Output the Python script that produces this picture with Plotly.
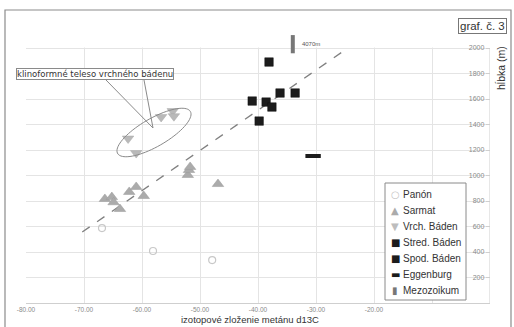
import numpy as np
import plotly.graph_objects as go

# ---------------- data ----------------
panon_x = [-66.9, -58.1, -47.9]
panon_y = [588, 408, 337]

sarmat_x = [-66.4, -65.2, -64.9, -63.8, -62.2, -61.0, -59.7, -52.1, -51.9, -51.7, -46.9]
sarmat_y = [816, 831, 790, 737, 871, 910, 839, 1004, 1043, 1067, 933]

vrch_x = [-62.4, -61.0, -56.7, -54.7, -54.5]
vrch_y = [1290, 1176, 1459, 1505, 1465]

stred_x = [-38.1, -41.0, -36.2, -33.6]
stred_y = [1890, 1584, 1647, 1647]

spod_x = [-38.6, -37.6, -39.8]
spod_y = [1576, 1537, 1427]

egg_x = [-30.5]
egg_y = [1153]

mezo_x = [-34.0]
mezo_y = [2030]
mezo_label = ["4070m"]

trend_x = [-70.3, -24.5]
trend_y = [557, 2000]

x_ticks = [-80, -70, -60, -50, -40, -30, -20, -10, 0]
x_ticktext = ["-80.00", "-70.00", "-60.00", "-50.00", "-40.00", "-30.00", "-20.00", "", "0.00"]
y_ticks = [0, 200, 400, 600, 800, 1000, 1200, 1400, 1600, 1800, 2000]
Y_MAX_TICK = 2000

legend_names = ["Panón", "Sarmat", "Vrch. Báden", "Stred. Báden", "Spod. Báden", "Eggenburg", "Mezozoikum"]
legend_glyphs = ["○", "▲", "▼", "■", "■", "▬", "▮"]
legend_colors = ["#c4c4c4", "#ababab", "#bdbdbd", "#1c1c1c", "#1c1c1c", "#1c1c1c", "#777777"]

# ---------------- geometry ----------------
W, H = 514, 327
L, R, T, B = 26, 24, 33, 24
PW, PH = W - L - R, H - T - B
XR = [-80, 0]
YR = [0, Y_MAX_TICK * PH / 255]   # 2000 sits 255 px above the x axis, headroom for the 4070m marker


def px2x(px):
    return XR[0] + (px - L) / PW * (XR[1] - XR[0])


def py2y(py):
    return YR[0] + (H - B - py) / PH * (YR[1] - YR[0])


def px2paper(px):
    return (px - L) / PW


def py2paper(py):
    return (H - B - py) / PH


FONT = "Liberation Sans, Arial, sans-serif"

fig = go.Figure()

fig.add_trace(go.Scatter(x=trend_x, y=trend_y, mode="lines", showlegend=False,
                         line=dict(color="#808080", width=1.3, dash="dash"), hoverinfo="skip"))

fig.add_trace(go.Scatter(x=panon_x, y=panon_y, mode="markers", name="Panón",
                         marker=dict(symbol="circle-open", size=7, color="#c8c8c8",
                                     line=dict(width=1.2, color="#c8c8c8"))))
fig.add_trace(go.Scatter(x=sarmat_x, y=sarmat_y, mode="markers", name="Sarmat",
                         marker=dict(symbol="triangle-up", size=10, color="#ababab",
                                     line=dict(width=0.5, color="#9a9a9a"))))
fig.add_trace(go.Scatter(x=vrch_x, y=vrch_y, mode="markers", name="Vrch. Báden",
                         marker=dict(symbol="triangle-down", size=10, color="#b9b9b9",
                                     line=dict(width=0.5, color="#a8a8a8"))))
fig.add_trace(go.Scatter(x=stred_x, y=stred_y, mode="markers", name="Stred. Báden",
                         marker=dict(symbol="square", size=8.5, color="#1c1c1c",
                                     line=dict(width=0.5, color="#111111"))))
fig.add_trace(go.Scatter(x=spod_x, y=spod_y, mode="markers", name="Spod. Báden",
                         marker=dict(symbol="square", size=8.5, color="#1c1c1c",
                                     line=dict(width=0.5, color="#111111"))))
fig.add_trace(go.Scatter(x=egg_x, y=egg_y, mode="markers", name="Eggenburg",
                         marker=dict(symbol="line-ew", size=11, color="#1c1c1c",
                                     line=dict(width=4, color="#1c1c1c"))))
fig.add_trace(go.Scatter(x=mezo_x, y=mezo_y, mode="markers+text", name="Mezozoikum",
                         text=mezo_label, textposition="middle right",
                         textfont=dict(size=6, color="#555555", family=FONT),
                         marker=dict(symbol="line-ns", size=13, color="#777777",
                                     line=dict(width=4, color="#777777"))))

# ellipse around the clinoform body (pixel-space parameters)
cx, cy, a, b, th = 154, 132.5, 42, 14, np.deg2rad(30)
t = np.linspace(0, 2 * np.pi, 80)
ex = cx + a * np.cos(t) * np.cos(th) + b * np.sin(t) * np.sin(th)
ey = cy - a * np.cos(t) * np.sin(th) + b * np.sin(t) * np.cos(th)
path = "M " + " L ".join(f"{px2x(u):.4f},{py2y(v):.3f}" for u, v in zip(ex, ey)) + " Z"

shapes = [
    # hide grid above the 2000 m line (Excel plot area ends there)
    dict(type="rect", xref="x", yref="y", x0=XR[0] - 1, x1=XR[1] + 1, y0=Y_MAX_TICK + 4, y1=YR[1] + 50,
         fillcolor="white", line=dict(width=0), layer="between"),
    # y axis line at x = 0 up to 2000
    dict(type="line", xref="x", yref="y", x0=XR[1], x1=XR[1], y0=0, y1=Y_MAX_TICK,
         line=dict(color="#cfcfcf", width=1), layer="between"),
    dict(type="path", path=path, xref="x", yref="y", line=dict(color="#8a8a8a", width=1)),
    dict(type="line", xref="x", yref="y", x0=px2x(106), y0=py2y(80), x1=px2x(153), y1=py2y(128),
         line=dict(color="#8a8a8a", width=1)),
    dict(type="line", xref="x", yref="y", x0=px2x(144), y0=py2y(80), x1=px2x(153), y1=py2y(128),
         line=dict(color="#8a8a8a", width=1)),
    # chart frame
    dict(type="rect", xref="paper", yref="paper",
         x0=px2paper(5), x1=px2paper(511), y0=py2paper(340), y1=py2paper(10),
         line=dict(color="#8c8c8c", width=1.2), layer="below"),
    # legend box
    dict(type="rect", xref="paper", yref="paper",
         x0=px2paper(385), x1=px2paper(466), y0=py2paper(300), y1=py2paper(183),
         line=dict(color="#8a8a8a", width=1), fillcolor="white", layer="above"),
]

annotations = [
    dict(text="klinoformné teleso vrchného bádenu", xref="paper", yref="paper",
         x=px2paper(95), y=py2paper(74), xanchor="center", yanchor="middle", showarrow=False,
         font=dict(size=8.5, color="#333333", family="DejaVu Sans"),
         bordercolor="#8a8a8a", borderwidth=1, borderpad=0, bgcolor="white"),
    dict(text="graf. č. 3", xref="paper", yref="paper",
         x=px2paper(482), y=py2paper(26.5), xanchor="center", yanchor="middle", showarrow=False,
         font=dict(size=11.5, color="#333333", family=FONT),
         bordercolor="#777777", borderwidth=1, borderpad=1, bgcolor="white"),
    dict(text="izotopové zloženie metánu d13C", xref="paper", yref="paper",
         x=px2paper(250), y=py2paper(327), xanchor="center", yanchor="bottom", showarrow=False,
         font=dict(size=9.5, color="#333333", family=FONT)),
    dict(text="hĺbka (m)", xref="paper", yref="paper", textangle=-90,
         x=px2paper(501), y=py2paper(68), xanchor="center", yanchor="middle", showarrow=False,
         font=dict(size=10.5, color="#333333", family=FONT)),
]

# custom compact legend (Excel-like spacing)
for i, (nm, gl, col) in enumerate(zip(legend_names, legend_glyphs, legend_colors)):
    ypx = 194 + i * 16.1
    annotations.append(dict(text=gl, xref="paper", yref="paper", x=px2paper(395), y=py2paper(ypx),
                            xanchor="center", yanchor="middle", showarrow=False,
                            font=dict(size=10, color=col, family="DejaVu Sans")))
    annotations.append(dict(text=nm, xref="paper", yref="paper", x=px2paper(401), y=py2paper(ypx),
                            xanchor="left", yanchor="middle", showarrow=False,
                            font=dict(size=10, color="#333333", family=FONT)))

fig.update_layout(
    width=W, height=H,
    margin=dict(l=L, r=R, t=T, b=B, autoexpand=False),
    paper_bgcolor="white", plot_bgcolor="white",
    font=dict(family=FONT, color="#555555"),
    shapes=shapes, annotations=annotations,
    showlegend=False,
    xaxis=dict(range=XR, tickvals=x_ticks, ticktext=x_ticktext,
               showgrid=True, gridcolor="#e4e4e4", gridwidth=1,
               zeroline=False, showline=True, linecolor="#cfcfcf",
               tickfont=dict(size=6.5, color="#8a8a8a", family=FONT),
               ticks="", ticklabelstandoff=0, fixedrange=True),
    yaxis=dict(range=YR, tickvals=y_ticks, side="right", ticklabelposition="inside",
               showgrid=True, gridcolor="#e4e4e4", gridwidth=1,
               zeroline=False, showline=False,
               ticks="inside", ticklen=4, tickcolor="#cfcfcf",
               tickfont=dict(size=7, color="#8a8a8a", family=FONT), fixedrange=True),
)

fig.write_html("out.html", config={"displayModeBar": False},
               post_script="document.body.style.margin='0px';document.body.style.overflow='hidden';")
